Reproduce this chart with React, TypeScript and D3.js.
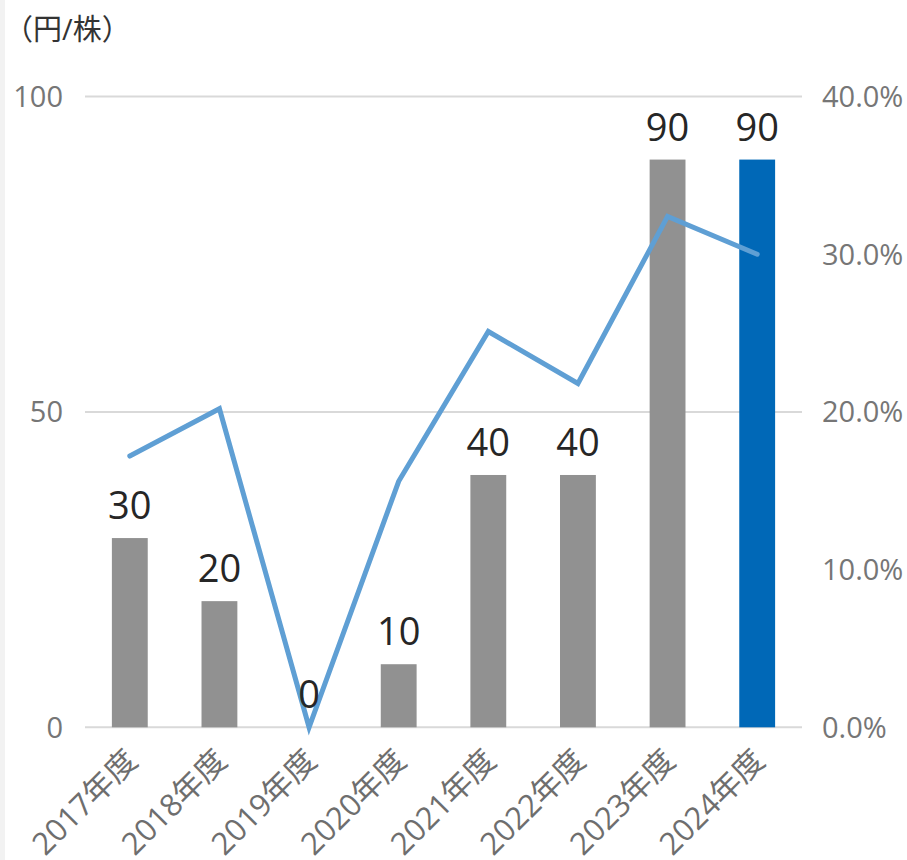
import React from "react";
import * as d3 from "d3";

const categories = ["2017年度", "2018年度", "2019年度", "2020年度", "2021年度", "2022年度", "2023年度", "2024年度"];
const dividends = [30, 20, 0, 10, 40, 40, 90, 90];
const payoutRatio = [17.2, 20.2, 0, 15.6, 25.1, 21.8, 32.4, 30.0];
const leftTicks = [0, 50, 100];
const rightTicks = [0, 10, 20, 30, 40];
const unitLabel = "（円/株）";

const W = 907, H = 860;
const M = { left: 85, right: 802, top: 96.5, bottom: 727.3 };
const FONT = "'Open Sans', 'Noto Sans CJK JP', sans-serif";

export default function App() {
  const x = d3.scaleBand<string>().domain(categories).range([M.left, M.right]).paddingInner(0.6).paddingOuter(0.3);
  const xc = (c: string) => (x(c) as number) + x.bandwidth() / 2;
  const yL = d3.scaleLinear().domain([0, 100]).range([M.bottom, M.top]);
  const yR = d3.scaleLinear().domain([0, 40]).range([M.bottom, M.top]);
  const line = d3.line<number>().x((_, i) => xc(categories[i])).y((d) => yR(d));

  return (
    <svg width={W} height={H} style={{ position: "absolute", left: 0, top: 0, background: "#fff" }}>
      <rect x={0} y={0} width={5} height={H} fill="#f2f2f2" />
      <text x={4} y={40} fontSize={29} fill="#333" fontFamily={FONT}>{unitLabel}</text>
      {leftTicks.map((t) => (
        <g key={"l" + t}>
          <line x1={M.left} x2={M.right} y1={yL(t)} y2={yL(t)} stroke="#d9d9d9" strokeWidth={2} />
          <text x={63} y={yL(t)} dy="0.36em" textAnchor="end" fontSize={29} fill="#767676" fontFamily={FONT}>{t}</text>
        </g>
      ))}
      {rightTicks.map((t) => (
        <text key={"r" + t} x={822} y={yR(t)} dy="0.36em" textAnchor="start" fontSize={29} fill="#767676" fontFamily={FONT}>
          {t.toFixed(1) + "%"}
        </text>
      ))}
      {categories.map((c, i) => (
        <rect key={c} x={x(c)} y={yL(dividends[i])} width={x.bandwidth()} height={M.bottom - yL(dividends[i])}
          fill={i === categories.length - 1 ? "#0068b7" : "#919191"} />
      ))}
      <path d={line(payoutRatio) || ""} fill="none" stroke="#5f9fd4" strokeWidth={5} strokeLinejoin="miter" strokeLinecap="round" />
      {categories.map((c, i) => (
        <text key={"v" + c} x={xc(c)} y={yL(dividends[i]) - 19} textAnchor="middle" fontSize={38} fill="#262626" fontFamily={FONT}>
          {dividends[i]}
        </text>
      ))}
      {categories.map((c) => (
        <text key={"c" + c} transform={`translate(${xc(c) - 6},${M.bottom + 20}) rotate(-45)`} textAnchor="end" dy="0.7em"
          fontSize={31} fill="#6e6e6e" fontFamily={FONT}>
          {c}
        </text>
      ))}
    </svg>
  );
}
